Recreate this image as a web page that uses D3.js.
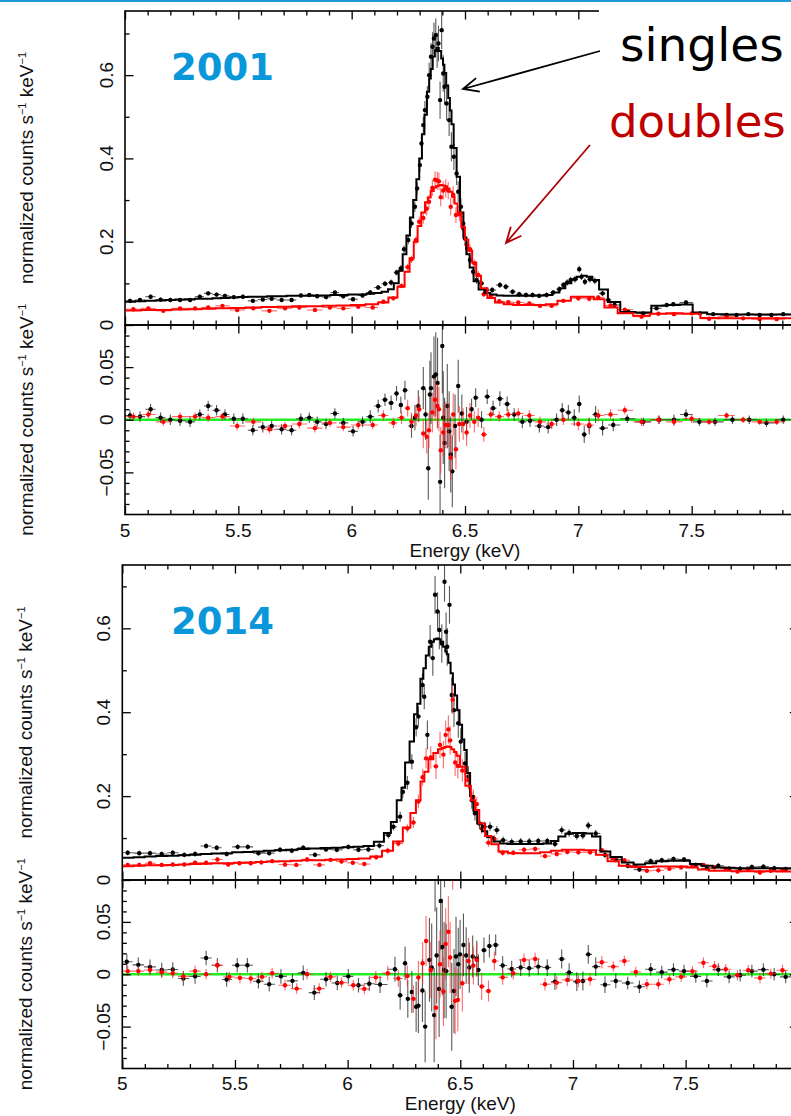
<!DOCTYPE html>
<html><head><meta charset="utf-8">
<script src="https://cdn.jsdelivr.net/npm/d3@7"></script>
<style>html,body{margin:0;padding:0;background:#fff}svg{display:block}</style>
</head><body>
<svg id="fig" width="791" height="1116"></svg>
<script>
// ---------------- axis ticks ----------------
const energyMajor = [5, 5.5, 6, 6.5, 7, 7.5, 8];
const energyLabelled = [5, 5.5, 6, 6.5, 7, 7.5];
const energyLabels = ["5", "5.5", "6", "6.5", "7", "7.5"];
const specMajor = [0, 0.2, 0.4, 0.6];
const specLabels = ["0", "0.2", "0.4", "0.6"];
const specMinor = [0.1, 0.3, 0.5, 0.7];
const residMajor = [-0.05, 0, 0.05];
const residLabels = ["\u22120.05", "0", "0.05"];
const residMinor = [-0.08, -0.07, -0.06, -0.04, -0.03, -0.02, -0.01, 0.01, 0.02, 0.03, 0.04, 0.06, 0.07, 0.08];

// ---------------- 2001 : singles (black) ----------------
// [energy keV, normalized counts, 1-sigma error]
const singles2001 = [
[5.022,.058,.005],[5.066,.060,.005],[5.113,.068,.005],[5.157,.061,.005],[5.200,.060,.005],[5.243,.060,.005],[5.287,.060,.005],[5.330,.068,.005],[5.367,.076,.005],[5.404,.073,.005],[5.441,.070,.005],[5.480,.067,.005],[5.520,.068,.005],[5.564,.058,.005],[5.608,.061,.005],[5.647,.063,.005],[5.691,.060,.005],[5.735,.060,.005],[5.776,.071,.005],[5.813,.072,.005],[5.848,.069,.005],[5.887,.067,.005],[5.926,.078,.005],[5.963,.069,.005],[6.006,.062,.005],[6.048,.071,.005],[6.082,.078,.006],[6.117,.090,.006],[6.147,.099,.006],[6.174,.102,.007],[6.198,.126,.007],
[6.217,.136,.008],[6.231,.182,.009],[6.250,.204,.010],[6.264,.244,.011],[6.279,.284,.012],[6.289,.328,.014],[6.301,.384,.016],[6.308,.436,.018],[6.316,.480,.020],[6.323,.516,.022],[6.334,.548,.026],[6.342,.600,.030],[6.350,.644,.033],[6.357,.668,.035],[6.363,.688,.038],[6.371,.696,.040],[6.377,.660,.042],[6.383,.676,.043],[6.390,.540,.045],[6.397,.708,.045],[6.404,.604,.044],[6.410,.572,.043],[6.419,.532,.041],[6.430,.492,.038],[6.440,.428,.035],[6.451,.404,.032],[6.463,.364,.028],[6.470,.320,.025],[6.482,.284,.020],[6.492,.244,.017],[6.500,.208,.015],[6.510,.184,.013],[6.522,.156,.011],[6.536,.128,.010],[6.551,.108,.009],[6.573,.100,.008],[6.595,.084,.007],[6.620,.084,.007],[6.654,.096,.007],[6.680,.092,.007],[6.710,.080,.006],[6.739,.074,.006],[6.769,.072,.006],[6.798,.072,.006],[6.827,.070,.006],[6.860,.072,.006],[6.889,.078,.006],[6.916,.086,.007],[6.934,.096,.007],[6.951,.102,.008],[6.966,.108,.008],[6.985,.110,.008],[7.004,.134,.008],[7.014,.116,.008],[7.029,.104,.008],[7.051,.110,.008],[7.073,.106,.008],[7.107,.076,.007],[7.132,.060,.006],[7.160,.048,.005],[7.220,.032,.004],[7.286,.028,.004],[7.345,.040,.004],[7.390,.048,.005],[7.419,.050,.005],[7.475,.054,.005],[7.536,.028,.004],[7.595,.026,.004],[7.654,.024,.004],[7.698,.024,.004],[7.750,.026,.004],[7.800,.024,.004],[7.852,.024,.004],[7.904,.026,.004],[7.955,.025,.004]
];
// folded model, one value per channel [energy, counts]
const singlesModel2001 = [
[5.022,.056],[5.066,.057],[5.113,.058],[5.157,.059],[5.200,.060],[5.243,.061],[5.287,.062],[5.330,.063],[5.367,.063],[5.404,.064],[5.441,.065],[5.480,.066],[5.520,.067],[5.564,.068],[5.608,.068],[5.647,.069],[5.691,.069],[5.735,.070],[5.776,.070],[5.813,.070],[5.848,.071],[5.887,.071],[5.926,.072],[5.963,.072],[6.006,.073],[6.048,.073],[6.082,.075],[6.117,.077],[6.147,.080],[6.174,.086],[6.198,.100],
[6.217,.130],[6.233,.170],[6.250,.215],[6.264,.258],[6.279,.300],[6.292,.350],[6.304,.400],[6.316,.458],[6.326,.505],[6.338,.560],[6.346,.592],[6.352,.615],[6.363,.645],[6.371,.660],[6.379,.665],[6.390,.658],[6.400,.640],[6.406,.625],[6.412,.605],[6.422,.575],[6.430,.545],[6.437,.515],[6.444,.482],[6.456,.425],[6.470,.356],[6.486,.270],[6.500,.210],[6.512,.170],[6.529,.138],[6.547,.105],[6.573,.085],[6.598,.077],[6.624,.073],[6.654,.071],[6.686,.070],[6.717,.070],[6.753,.070],[6.787,.070],[6.828,.071],[6.867,.072],[6.904,.078],[6.929,.088],[6.956,.100],[6.982,.110],[7.004,.116],[7.026,.118],[7.048,.116],[7.076,.108],[7.107,.085],[7.154,.055],[7.216,.031],[7.287,.030],[7.357,.046],[7.422,.048],[7.475,.049],[7.534,.030],[7.603,.026],[7.680,.025],[7.754,.025],[7.830,.025],[7.904,.025],[7.980,.025]
];
// residuals (data - model) [energy, residual, error]
const singlesResid2001 = [
[5.022,.004,.005],[5.066,.003,.005],[5.113,.010,.005],[5.157,.002,.005],[5.200,.000,.005],[5.243,-.001,.005],[5.287,-.002,.005],[5.330,.005,.005],[5.367,.013,.005],[5.404,.009,.005],[5.441,.005,.005],[5.480,.001,.005],[5.520,.001,.005],[5.564,-.010,.005],[5.608,-.007,.005],[5.647,-.006,.005],[5.691,-.009,.005],[5.735,-.010,.005],[5.776,.001,.005],[5.813,.002,.005],[5.848,-.002,.005],[5.887,-.004,.005],[5.926,.006,.005],[5.963,-.003,.005],[6.006,-.011,.005],[6.048,-.002,.005],[6.082,.003,.006],[6.117,.013,.006],[6.147,.019,.006],[6.174,.016,.007],[6.198,.025,.007],
[6.217,.014,.008],[6.235,.028,.009],[6.264,-.006,.011],[6.279,.002,.012],[6.294,.013,.015],[6.316,.030,.020],[6.326,.005,.024],[6.338,-.046,.030],[6.345,.024,.032],[6.350,.030,.034],[6.363,.041,.038],[6.371,.043,.040],[6.379,.035,.043],[6.390,-.059,.045],[6.400,.070,.045],[6.404,.002,.044],[6.410,-.022,.043],[6.422,.013,.040],[6.430,-.011,.038],[6.437,-.033,.036],[6.444,-.049,.034],[6.456,-.006,.030],[6.470,.032,.025],[6.486,.006,.018],[6.507,-.002,.014],[6.529,.010,.010],[6.547,.021,.009],[6.573,.000,.008],[6.598,.022,.007],[6.624,.011,.007],[6.654,.020,.007],[6.686,.015,.007],[6.717,.005,.006],[6.753,-.002,.006],[6.787,-.001,.006],[6.828,-.006,.006],[6.867,-.007,.006],[6.904,.000,.006],[6.929,.009,.007],[6.956,.007,.007],[6.982,.002,.008],[7.004,.015,.008],[7.026,-.014,.008],[7.048,-.006,.008],[7.076,.005,.008],[7.107,-.008,.007],[7.154,-.005,.006],[7.216,.001,.004],[7.287,-.002,.004],[7.357,.000,.004],[7.422,.000,.005],[7.475,.005,.005],[7.534,-.002,.004],[7.603,-.002,.004],[7.680,.000,.004],[7.754,.000,.004],[7.830,-.003,.004],[7.904,.000,.004]
];

// ---------------- 2001 : doubles (red) ----------------
const doubles2001 = [
[5.037,.038,.004],[5.103,.040,.004],[5.169,.034,.004],[5.243,.040,.004],[5.309,.040,.004],[5.367,.042,.004],[5.430,.046,.004],[5.495,.036,.004],[5.566,.040,.004],[5.637,.034,.004],[5.706,.040,.004],[5.769,.042,.004],[5.838,.036,.004],[5.904,.042,.004],[5.963,.040,.004],[6.029,.044,.004],[6.093,.042,.004],[6.140,.056,.005],[6.184,.064,.005],
[6.220,.094,.006],[6.247,.139,.008],[6.264,.158,.009],[6.284,.204,.010],[6.298,.248,.012],[6.316,.257,.014],[6.331,.279,.016],[6.341,.296,.017],[6.356,.329,.019],[6.368,.349,.020],[6.378,.347,.021],[6.385,.345,.021],[6.393,.307,.022],[6.404,.323,.022],[6.415,.328,.022],[6.426,.323,.021],[6.437,.284,.021],[6.448,.313,.020],[6.460,.264,.019],[6.475,.266,.017],[6.492,.232,.015],[6.507,.193,.013],[6.522,.182,.012],[6.541,.148,.010],[6.558,.120,.009],[6.583,.074,.007],[6.614,.070,.006],[6.651,.057,.005],[6.691,.055,.005],[6.735,.054,.005],[6.784,.052,.005],[6.831,.046,.005],[6.882,.046,.005],[6.934,.058,.005],[7.000,.064,.006],[7.048,.063,.006],[7.088,.066,.006],[7.142,.047,.005],[7.205,.037,.004],[7.279,.020,.004],[7.353,.027,.004],[7.422,.026,.004],[7.500,.028,.004],[7.577,.015,.003],[7.654,.020,.003],[7.727,.016,.003],[7.800,.014,.003],[7.875,.014,.003]
];
const doublesModel2001 = [
[5.037,.035],[5.103,.036],[5.169,.036],[5.243,.037],[5.309,.038],[5.367,.039],[5.430,.040],[5.495,.041],[5.566,.042],[5.637,.043],[5.706,.044],[5.769,.045],[5.838,.045],[5.904,.046],[5.963,.047],[6.029,.048],[6.093,.050],[6.140,.054],[6.184,.066],[6.220,.092],[6.247,.128],[6.264,.160],[6.284,.200],[6.298,.238],[6.316,.270],[6.331,.295],[6.341,.306],[6.356,.322],[6.368,.330],[6.378,.334],[6.385,.335],[6.393,.336],[6.404,.335],[6.415,.333],[6.426,.328],[6.437,.320],[6.448,.308],[6.460,.292],[6.475,.270],[6.492,.236],[6.507,.205],[6.522,.178],[6.541,.150],[6.558,.118],[6.583,.088],[6.614,.065],[6.651,.054],[6.691,.050],[6.735,.048],[6.784,.048],[6.831,.048],[6.882,.050],[6.934,.058],[7.000,.068],[7.048,.068],[7.088,.062],[7.142,.042],[7.205,.028],[7.279,.022],[7.353,.027],[7.422,.028],[7.500,.027],[7.577,.017],[7.654,.016],[7.727,.016],[7.800,.016],[7.875,.016],[7.950,.016]
];
const doublesResid2001 = [
[5.037,.003,.004],[5.103,.005,.004],[5.169,-.002,.004],[5.243,.003,.004],[5.309,.003,.004],[5.367,.002,.004],[5.430,.003,.004],[5.495,-.006,.004],[5.566,-.002,.004],[5.637,-.009,.004],[5.706,-.006,.004],[5.769,-.004,.004],[5.838,-.008,.004],[5.904,-.003,.004],[5.963,-.007,.004],[6.029,-.005,.004],[6.093,-.005,.004],[6.140,.004,.005],[6.184,-.003,.005],
[6.220,.002,.006],[6.247,.011,.008],[6.264,-.002,.009],[6.284,.004,.010],[6.298,.010,.012],[6.316,-.013,.014],[6.331,-.016,.016],[6.341,-.010,.017],[6.356,.007,.019],[6.368,.019,.020],[6.378,.013,.021],[6.385,.010,.021],[6.393,-.029,.022],[6.404,-.012,.022],[6.415,-.005,.022],[6.426,-.005,.021],[6.437,-.036,.021],[6.448,.005,.020],[6.460,-.028,.019],[6.475,-.004,.017],[6.492,-.004,.015],[6.507,-.012,.013],[6.522,.004,.012],[6.541,-.002,.010],[6.558,.002,.009],[6.583,-.014,.007],[6.614,.005,.006],[6.651,.003,.005],[6.691,.005,.005],[6.735,.006,.005],[6.784,.004,.005],[6.831,-.002,.005],[6.882,-.004,.005],[6.934,.000,.005],[7.000,-.004,.006],[7.048,-.005,.006],[7.088,.004,.006],[7.142,.005,.005],[7.205,.009,.004],[7.279,-.002,.004],[7.353,.000,.004],[7.422,-.002,.004],[7.500,.001,.004],[7.577,-.002,.003],[7.654,.004,.003],[7.727,.000,.003],[7.800,-.002,.003],[7.875,-.002,.003]
];

// ---------------- 2014 : singles (black) ----------------
const singles2014 = [
[5.024,.065,.006],[5.075,.064,.006],[5.123,.064,.006],[5.175,.062,.006],[5.224,.065,.006],[5.275,.060,.006],[5.323,.062,.006],[5.372,.081,.006],[5.419,.077,.006],[5.463,.062,.006],[5.512,.079,.006],[5.557,.079,.006],[5.604,.064,.006],[5.652,.064,.006],[5.700,.072,.006],[5.752,.070,.006],[5.803,.077,.006],[5.855,.060,.006],[5.904,.073,.006],[5.952,.072,.006],[6.003,.079,.006],[6.048,.072,.006],[6.092,.073,.007],[6.141,.082,.007],[6.181,.107,.008],[6.203,.127,.009],
[6.233,.151,.012],[6.245,.210,.014],[6.265,.232,.016],[6.285,.282,.018],[6.304,.364,.022],[6.314,.390,.024],[6.332,.465,.028],[6.340,.437,.030],[6.354,.346,.034],[6.366,.568,.040],[6.378,.529,.042],[6.388,.680,.045],[6.399,.640,.046],[6.407,.596,.046],[6.418,.564,.046],[6.430,.711,.047],[6.437,.592,.046],[6.442,.556,.045],[6.452,.656,.045],[6.462,.441,.042],[6.472,.405,.040],[6.491,.374,.035],[6.502,.330,.032],[6.521,.278,.028],[6.536,.246,.025],[6.551,.190,.020],[6.565,.159,.017],[6.585,.135,.014],[6.607,.127,.012],[6.632,.127,.011],[6.662,.119,.010],[6.690,.095,.009],[6.728,.091,.008],[6.768,.092,.008],[6.806,.092,.008],[6.846,.093,.008],[6.886,.093,.008],[6.920,.086,.008],[6.950,.119,.009],[6.983,.112,.009],[7.017,.105,.009],[7.044,.106,.009],[7.068,.130,.009],[7.101,.111,.009],[7.142,.060,.008],[7.190,.049,.007],[7.243,.034,.006],[7.295,.025,.006],[7.345,.045,.006],[7.394,.047,.006],[7.446,.050,.006],[7.493,.049,.006],[7.545,.036,.006],[7.594,.028,.006],[7.645,.034,.006],[7.693,.027,.006],[7.742,.027,.006],[7.794,.031,.006],[7.845,.032,.006],[7.893,.028,.006],[7.944,.026,.006]
];
const singlesModel2014 = [
[5.024,.053],[5.075,.054],[5.123,.056],[5.175,.057],[5.224,.058],[5.275,.059],[5.323,.060],[5.372,.062],[5.419,.063],[5.463,.064],[5.512,.066],[5.557,.067],[5.604,.068],[5.652,.070],[5.700,.071],[5.752,.072],[5.803,.074],[5.855,.075],[5.904,.076],[5.952,.077],[6.003,.078],[6.048,.079],[6.092,.081],[6.141,.091],[6.181,.112],[6.203,.138],[6.233,.190],[6.245,.220],[6.265,.280],[6.285,.330],[6.304,.395],[6.314,.420],[6.332,.480],[6.340,.505],[6.354,.535],[6.366,.556],[6.378,.568],[6.388,.574],[6.399,.576],[6.407,.574],[6.418,.568],[6.430,.556],[6.437,.545],[6.442,.538],[6.452,.518],[6.462,.493],[6.472,.466],[6.481,.440],[6.491,.405],[6.502,.370],[6.514,.335],[6.521,.310],[6.536,.255],[6.551,.200],[6.565,.165],[6.585,.135],[6.607,.116],[6.632,.102],[6.662,.092],[6.690,.087],[6.728,.086],[6.768,.086],[6.806,.086],[6.846,.086],[6.886,.087],[6.920,.093],[6.950,.104],[6.983,.110],[7.017,.112],[7.044,.112],[7.068,.111],[7.101,.104],[7.142,.068],[7.190,.055],[7.243,.042],[7.295,.037],[7.345,.040],[7.394,.045],[7.446,.046],[7.493,.046],[7.545,.038],[7.594,.034],[7.645,.030],[7.693,.029],[7.742,.028],[7.794,.028],[7.845,.028],[7.893,.028],[7.944,.028],[7.995,.028]
];
const singlesResid2014 = [
[5.020,.012,.007],[5.071,.009,.007],[5.123,.007,.007],[5.175,.004,.007],[5.224,.0045,.007],[5.271,-.004,.007],[5.323,-.002,.007],[5.372,.0155,.007],[5.422,.0086,.007],[5.463,-.005,.007],[5.510,.0086,.007],[5.555,.0086,.007],[5.604,-.0067,.007],[5.652,-.0095,.007],[5.704,-.002,.007],[5.755,-.0063,.007],[5.803,.0013,.007],[5.852,-.0175,.007],[5.904,-.0048,.007],[5.954,-.0083,.007],[6.003,-.002,.007],[6.048,-.0105,.007],[6.096,-.009,.007],[6.144,-.0098,.008],
[6.210,.0048,.012],[6.233,-.020,.014],[6.255,.0105,.016],[6.267,-.0235,.018],[6.285,-.017,.020],[6.304,-.031,.024],[6.314,-.030,.026],[6.332,-.0155,.030],[6.344,-.050,.034],[6.363,.0137,.040],[6.373,.0064,.042],[6.384,-.039,.045],[6.388,.105,.045],[6.395,.018,.046],[6.406,-.014,.046],[6.413,.070,.047],[6.420,.026,.046],[6.428,.004,.046],[6.430,.130,.047],[6.437,.003,.045],[6.462,-.031,.042],[6.472,-.016,.040],[6.481,.017,.038],[6.491,.0095,.035],[6.499,.019,.033],[6.514,.028,.030],[6.526,.018,.027],[6.540,.0064,.024],[6.555,.017,.020],[6.573,.015,.017],[6.580,.004,.015],[6.605,.023,.012],[6.629,.027,.011],[6.657,.028,.010],[6.688,.0083,.009],[6.728,.005,.008],[6.768,.0064,.008],[6.806,.0057,.008],[6.846,.0073,.008],[6.886,.0064,.008],[6.920,-.007,.008],[6.950,.0146,.009],[6.983,.0016,.009],[7.017,-.007,.009],[7.044,-.0064,.009],[7.068,.019,.009],[7.101,.0073,.009],[7.142,-.010,.008],[7.190,-.0064,.007],[7.243,-.0083,.006],[7.295,-.012,.006],[7.345,.0048,.006],[7.394,.002,.006],[7.446,.0044,.006],[7.493,.003,.006],[7.545,-.002,.006],[7.594,-.0064,.006],[7.645,.0044,.006],[7.693,-.0025,.006],[7.742,-.001,.006],[7.794,.003,.006],[7.845,.0044,.006],[7.893,.000,.006],[7.944,-.0025,.006]
];

// ---------------- 2014 : doubles (red) ----------------
const doubles2014 = [
[5.024,.036,.005],[5.075,.036,.005],[5.123,.040,.005],[5.175,.036,.005],[5.224,.037,.005],[5.275,.037,.005],[5.323,.041,.005],[5.372,.041,.005],[5.422,.049,.005],[5.470,.037,.005],[5.520,.040,.005],[5.570,.040,.005],[5.617,.042,.005],[5.665,.045,.005],[5.722,.037,.005],[5.772,.036,.005],[5.820,.049,.005],[5.875,.036,.005],[5.924,.048,.005],[5.973,.044,.005],[6.023,.041,.005],[6.074,.038,.005],[6.127,.054,.006],[6.178,.070,.007],[6.225,.087,.008],
[6.265,.123,.010],[6.292,.137,.013],[6.314,.187,.016],[6.333,.245,.020],[6.348,.290,.024],[6.369,.292,.027],[6.392,.271,.030],[6.410,.322,.032],[6.425,.299,.033],[6.435,.346,.034],[6.447,.359,.034],[6.455,.333,.034],[6.466,.430,.034],[6.477,.280,.032],[6.489,.272,.030],[6.509,.261,.027],[6.536,.238,.022],[6.558,.198,.018],[6.573,.181,.016],[6.595,.123,.013],[6.625,.089,.010],[6.651,.098,.009],[6.688,.065,.007],[6.735,.065,.006],[6.783,.072,.006],[6.832,.074,.006],[6.876,.057,.006],[6.928,.062,.006],[6.975,.067,.006],[7.024,.066,.006],[7.076,.066,.006],[7.128,.071,.006],[7.179,.052,.005],[7.228,.047,.005],[7.279,.033,.005],[7.328,.022,.005],[7.379,.023,.005],[7.428,.027,.005],[7.480,.030,.005],[7.530,.033,.005],[7.579,.036,.005],[7.628,.030,.005],[7.678,.027,.005],[7.730,.020,.005],[7.778,.025,.005],[7.830,.018,.005],[7.878,.022,.005],[7.930,.024,.005]
];
const doublesModel2014 = [
[5.024,.033],[5.075,.034],[5.123,.035],[5.175,.035],[5.224,.036],[5.275,.037],[5.323,.038],[5.372,.039],[5.422,.040],[5.470,.040],[5.520,.041],[5.570,.042],[5.617,.043],[5.665,.044],[5.722,.045],[5.772,.046],[5.820,.047],[5.875,.047],[5.924,.048],[5.973,.049],[6.023,.050],[6.074,.051],[6.127,.056],[6.178,.070],[6.225,.092],[6.265,.125],[6.292,.160],[6.314,.190],[6.333,.235],[6.348,.258],[6.369,.288],[6.392,.303],[6.410,.312],[6.425,.315],[6.435,.317],[6.447,.318],[6.455,.317],[6.466,.312],[6.477,.305],[6.489,.296],[6.509,.270],[6.536,.225],[6.558,.190],[6.573,.167],[6.595,.135],[6.625,.105],[6.651,.085],[6.688,.068],[6.735,.064],[6.783,.064],[6.832,.064],[6.876,.066],[6.928,.070],[6.975,.072],[7.024,.072],[7.076,.071],[7.128,.060],[7.179,.045],[7.228,.034],[7.279,.031],[7.328,.031],[7.379,.032],[7.428,.032],[7.480,.032],[7.530,.030],[7.579,.025],[7.628,.022],[7.678,.022],[7.730,.021],[7.778,.021],[7.830,.021],[7.878,.021],[7.930,.020],[7.980,.020]
];
const doublesResid2014 = [
[5.024,.003,.005],[5.071,.003,.005],[5.123,.004,.005],[5.175,.002,.005],[5.224,.001,.005],[5.271,-.002,.005],[5.323,.003,.005],[5.372,.000,.005],[5.422,.0086,.005],[5.475,-.0025,.005],[5.522,-.0035,.005],[5.570,-.004,.005],[5.620,-.0025,.005],[5.665,.001,.005],[5.722,-.0105,.005],[5.774,-.0137,.005],[5.820,.000,.005],[5.874,-.0137,.005],[5.924,-.0025,.005],[5.973,-.008,.005],[6.025,-.0105,.005],[6.074,-.014,.005],[6.125,-.003,.006],[6.178,.001,.007],[6.225,-.004,.008],
[6.265,-.0016,.010],[6.292,-.0235,.013],[6.314,-.003,.016],[6.333,.0105,.020],[6.348,.0317,.024],[6.369,.004,.027],[6.392,-.032,.030],[6.410,.0095,.032],[6.425,-.0165,.033],[6.435,.029,.034],[6.447,.0406,.034],[6.455,.016,.034],[6.466,.115,.034],[6.477,-.0254,.032],[6.489,-.0245,.030],[6.509,-.0086,.027],[6.536,.0127,.022],[6.558,.0083,.018],[6.573,.0137,.016],[6.595,-.0117,.013],[6.625,-.016,.010],[6.651,.0127,.009],[6.688,-.003,.007],[6.735,.001,.006],[6.783,.0137,.006],[6.832,.0146,.006],[6.876,-.0095,.006],[6.928,-.008,.006],[6.975,-.0054,.006],[7.024,-.0064,.006],[7.076,-.0048,.006],[7.128,.0114,.006],[7.179,.0073,.005],[7.228,.0127,.005],[7.279,.0022,.005],[7.328,-.0095,.005],[7.379,-.0095,.005],[7.428,-.0048,.005],[7.480,-.0025,.005],[7.530,.0029,.005],[7.579,.011,.005],[7.628,.0076,.005],[7.678,.0048,.005],[7.730,-.001,.005],[7.778,.0038,.005],[7.830,-.0035,.005],[7.878,.0006,.005],[7.930,.0038,.005]
];

// ---------------- figure layout ----------------
const panels = [
  { year: "2001", left: 125, right: 805, top: 11, mid: 325, bottom: 514.5, specMax: 0.754,
    singles: singles2001, singlesModel: singlesModel2001, singlesResid: singlesResid2001,
    doubles: doubles2001, doublesModel: doublesModel2001, doublesResid: doublesResid2001,
    tickBase: 537, titleBase: 557, yLabelX: 113, yTitleX: 33, yearBase: 80 },
  { year: "2014", left: 122.3, right: 798.3, top: 565, mid: 880, bottom: 1068.5, specMax: 0.751,
    singles: singles2014, singlesModel: singlesModel2014, singlesResid: singlesResid2014,
    doubles: doubles2014, doublesModel: doublesModel2014, doublesResid: doublesResid2014,
    tickBase: 1090, titleBase: 1110, yLabelX: 110, yTitleX: 31.5, yearBase: 633.5 }
];

const BLACK = "#000", RED = "#ff0000";
const FONT = "'Liberation Sans', Arial, Helvetica, sans-serif";
const svg = d3.select("#fig");

svg.append("rect").attr("x", 0).attr("y", 0).attr("width", 791).attr("height", 2).attr("fill", "#1e9bd7");

// bin edges placed midway between neighbouring channel centres
function binEdges(centres) {
  const n = centres.length, e = new Array(n + 1);
  e[0] = centres[0] - (centres[1] - centres[0]) / 2;
  for (let i = 1; i < n; i++) e[i] = (centres[i - 1] + centres[i]) / 2;
  e[n] = centres[n - 1] + (centres[n - 1] - centres[n - 2]) / 2;
  return e;
}

function drawModel(g, model, x, y, color) {
  const e = binEdges(model.map(d => d[0]));
  const pts = model.map((d, i) => [e[i], d[1]]);
  pts.push([e[model.length], model[model.length - 1][1]]);
  g.append("path").datum(pts)
    .attr("d", d3.line().x(d => x(d[0])).y(d => y(d[1])).curve(d3.curveStepAfter))
    .attr("fill", "none").attr("stroke", color).attr("stroke-width", 2)
    .attr("stroke-linejoin", "miter");
}

function drawPoints(g, pts, x, y, color, barColor, barOpacity) {
  const e = binEdges(pts.map(d => d[0]));
  const grp = g.append("g");
  grp.selectAll("line.v").data(pts).join("line").attr("class", "v")
    .attr("x1", d => x(d[0])).attr("x2", d => x(d[0]))
    .attr("y1", d => y(d[1] - d[2])).attr("y2", d => y(d[1] + d[2]))
    .attr("stroke", barColor).attr("stroke-width", 1.1).attr("stroke-opacity", barOpacity);
  grp.selectAll("line.h").data(pts).join("line").attr("class", "h")
    .attr("x1", (d, i) => x(e[i])).attr("x2", (d, i) => x(e[i + 1]))
    .attr("y1", d => y(d[1])).attr("y2", d => y(d[1]))
    .attr("stroke", barColor).attr("stroke-width", 1.1).attr("stroke-opacity", barOpacity);
  grp.selectAll("circle").data(pts).join("circle")
    .attr("cx", d => x(d[0])).attr("cy", d => y(d[1])).attr("r", 2.2)
    .attr("fill", color);
}

function drawTicks(g, x, y, box, yMaj, yMin) {
  const minorX = d3.range(51, 80).map(v => v / 10).filter(v => Math.abs(v * 2 - Math.round(v * 2)) > 1e-6);
  const tick = (axis, tx, ty) => g.append("g").attr("transform", `translate(${tx},${ty})`).call(axis)
    .call(s => s.select(".domain").remove())
    .call(s => s.selectAll("line").attr("stroke", "#000").attr("stroke-width", 1.3))
    .call(s => s.selectAll("text").remove());
  tick(d3.axisBottom(x).tickValues(energyMajor).tickSize(-8.5), 0, box.bottom);
  tick(d3.axisBottom(x).tickValues(minorX).tickSize(-4.5), 0, box.bottom);
  tick(d3.axisTop(x).tickValues(energyMajor).tickSize(-8.5), 0, box.top);
  tick(d3.axisTop(x).tickValues(minorX).tickSize(-4.5), 0, box.top);
  tick(d3.axisLeft(y).tickValues(yMaj).tickSize(-8.5), box.left, 0);
  tick(d3.axisLeft(y).tickValues(yMin).tickSize(-4.5), box.left, 0);
  tick(d3.axisRight(y).tickValues(yMaj).tickSize(-8.5), box.right, 0);
  tick(d3.axisRight(y).tickValues(yMin).tickSize(-4.5), box.right, 0);
  g.append("rect").attr("x", box.left).attr("y", box.top)
    .attr("width", box.right - box.left).attr("height", box.bottom - box.top)
    .attr("fill", "none").attr("stroke", "#000").attr("stroke-width", 1.6);
}

function yTitle(g, cx, cy) {
  const t = g.append("text").attr("transform", `translate(${cx},${cy}) rotate(-90)`)
    .attr("text-anchor", "middle").attr("font-family", FONT).attr("font-size", 19).attr("fill", "#111");
  t.append("tspan").text("normalized counts s");
  t.append("tspan").attr("dy", -7).attr("font-size", 11).text("\u22121");
  t.append("tspan").attr("dy", 7).text(" keV");
  t.append("tspan").attr("dy", -7).attr("font-size", 11).text("\u22121");
}

panels.forEach((p, k) => {
  const g = svg.append("g");
  const x = d3.scaleLinear().domain([5, 8]).range([p.left, p.right]);
  const ySpec = d3.scaleLinear().domain([0, p.specMax]).range([p.mid, p.top]);
  const yRes = d3.scaleLinear().domain([-0.09, 0.09]).range([p.bottom, p.mid]);

  const specId = "clipSpec" + k, resId = "clipRes" + k;
  const defs = g.append("defs");
  defs.append("clipPath").attr("id", specId).append("rect")
    .attr("x", p.left).attr("y", p.top).attr("width", p.right - p.left).attr("height", p.mid - p.top);
  defs.append("clipPath").attr("id", resId).append("rect")
    .attr("x", p.left).attr("y", p.mid).attr("width", p.right - p.left).attr("height", p.bottom - p.mid);

  // spectrum panel
  const gs = g.append("g").attr("clip-path", `url(#${specId})`);
  drawPoints(gs, p.singles, x, ySpec, BLACK, "#222", 0.75);
  drawPoints(gs, p.doubles, x, ySpec, RED, "#ff2a2a", 0.7);
  drawModel(gs, p.singlesModel, x, ySpec, BLACK);
  drawModel(gs, p.doublesModel, x, ySpec, RED);

  // residual panel
  const gr = g.append("g").attr("clip-path", `url(#${resId})`);
  gr.append("line").attr("x1", p.left).attr("x2", p.right)
    .attr("y1", yRes(0)).attr("y2", yRes(0)).attr("stroke", "#22ee22").attr("stroke-width", 2.6);
  drawPoints(gr, p.singlesResid, x, yRes, BLACK, "#222", 0.75);
  drawPoints(gr, p.doublesResid, x, yRes, RED, "#ff2a2a", 0.7);

  drawTicks(g, x, ySpec, { left: p.left, right: p.right, top: p.top, bottom: p.mid }, specMajor, specMinor);
  drawTicks(g, x, yRes, { left: p.left, right: p.right, top: p.mid, bottom: p.bottom }, residMajor, residMinor);

  // tick labels
  const lab = g.append("g").attr("font-family", FONT).attr("font-size", 19).attr("fill", "#111");
  energyLabelled.forEach((v, i) => lab.append("text").attr("x", x(v)).attr("y", p.tickBase)
    .attr("text-anchor", "middle").text(energyLabels[i]));
  specMajor.forEach((v, i) => lab.append("text")
    .attr("transform", `translate(${p.yLabelX},${ySpec(v)}) rotate(-90)`)
    .attr("text-anchor", "middle").text(specLabels[i]));
  residMajor.forEach((v, i) => lab.append("text")
    .attr("transform", `translate(${p.yLabelX},${yRes(v)}) rotate(-90)`)
    .attr("text-anchor", "middle").text(residLabels[i]));
  lab.append("text").attr("x", x(6.5)).attr("y", p.titleBase).attr("text-anchor", "middle").text("Energy (keV)");
  yTitle(g, p.yTitleX, (p.top + p.mid) / 2);
  yTitle(g, p.yTitleX, (p.mid + p.bottom) / 2);

  g.append("text").attr("x", 171).attr("y", p.yearBase)
    .attr("font-family", "'DejaVu Sans', Verdana, sans-serif").attr("font-weight", "bold")
    .attr("font-size", 37).attr("fill", "#0a97d9").text(p.year);
});

// annotation labels with arrows
const note = svg.append("g");
note.append("rect").attr("x", 599).attr("y", 3).attr("width", 200).attr("height", 150).attr("fill", "#fff");
function arrow(x1, y1, x2, y2, color) {
  const a = Math.atan2(y1 - y2, x1 - x2), L = 17, s = 0.42;
  const pth = d3.path();
  pth.moveTo(x1, y1); pth.lineTo(x2, y2);
  pth.moveTo(x2 + L * Math.cos(a + s), y2 + L * Math.sin(a + s)); pth.lineTo(x2, y2);
  pth.lineTo(x2 + L * Math.cos(a - s), y2 + L * Math.sin(a - s));
  note.append("path").attr("d", pth.toString()).attr("fill", "none")
    .attr("stroke", color).attr("stroke-width", 1.8);
}
arrow(600, 51, 463, 89, "#000");
arrow(590, 145, 506, 243, "#b00000");
note.append("text").attr("x", 620).attr("y", 61).attr("font-family", "'DejaVu Sans', Verdana, sans-serif")
  .attr("font-size", 47).attr("fill", "#000").text("singles");
note.append("text").attr("x", 609).attr("y", 137).attr("font-family", "'DejaVu Sans', Verdana, sans-serif")
  .attr("font-size", 45).attr("fill", "#c00000").text("doubles");
</script>
</body></html>
